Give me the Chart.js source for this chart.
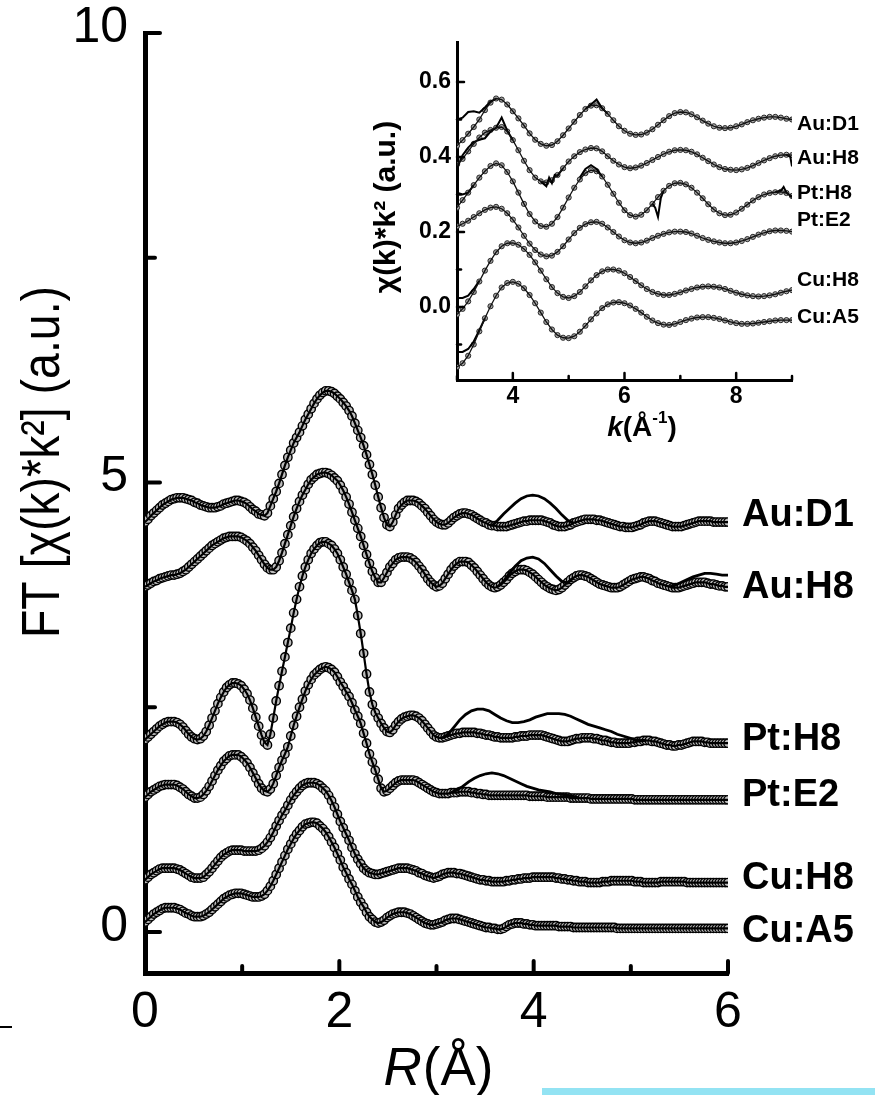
<!DOCTYPE html>
<html><head><meta charset="utf-8">
<script src="https://cdn.jsdelivr.net/npm/chart.js@4.4.1/dist/chart.umd.min.js"></script>
<style>
html,body{margin:0;padding:0;background:#fff;}
#wrap{position:relative;width:875px;height:1095px;overflow:hidden;background:#fff;}
#main{position:absolute;left:0;top:0;}
#inset{position:absolute;left:340px;top:20px;}
#scanDash{position:absolute;left:0;top:1026px;width:12px;height:2px;background:#000;}
#scanBar{position:absolute;left:542px;top:1088px;width:333px;height:7px;background:#93e3f3;}
</style></head><body>
<div id="wrap">
<canvas id="main" width="875" height="1095"></canvas>
<canvas id="inset" width="535" height="440"></canvas>
<div id="scanDash"></div><div id="scanBar"></div>
</div>
<script>
const SANS = '"Liberation Sans", Arial, Helvetica, sans-serif';

/* ================= main panel: FT magnitude vs R ================= */
const SERIES_NAMES = ['Au:D1', 'Au:H8', 'Pt:H8', 'Pt:E2', 'Cu:H8', 'Cu:A5'];
const R_START = 0, R_STEP = 0.03;   // R grid of the FT data (Å)

const FT_AU_D1 = [
4.56,4.59,4.63,4.66,4.69,4.72,4.75,4.77,4.79,4.81,
4.82,4.83,4.83,4.83,4.82,4.81,4.80,4.78,4.77,4.75,
4.74,4.73,4.72,4.72,4.72,4.73,4.74,4.76,4.77,4.78,
4.79,4.80,4.80,4.79,4.78,4.76,4.73,4.70,4.68,4.65,
4.64,4.63,4.66,4.74,4.82,4.90,4.99,5.09,5.19,5.28,
5.36,5.44,5.50,5.56,5.63,5.70,5.76,5.82,5.88,5.93,
5.97,6.00,6.02,6.02,6.01,5.99,5.96,5.93,5.89,5.85,
5.80,5.74,5.66,5.58,5.50,5.41,5.31,5.20,5.09,4.97,
4.84,4.72,4.61,4.53,4.51,4.56,4.64,4.71,4.75,4.78,
4.80,4.80,4.80,4.79,4.77,4.74,4.71,4.67,4.63,4.59,
4.56,4.54,4.53,4.53,4.55,4.58,4.61,4.63,4.65,4.66,
4.66,4.65,4.64,4.62,4.60,4.58,4.56,4.55,4.53,4.52,
4.52,4.51,4.51,4.51,4.51,4.52,4.53,4.54,4.55,4.56,
4.57,4.57,4.58,4.58,4.58,4.58,4.58,4.57,4.56,4.55,
4.53,4.52,4.51,4.51,4.51,4.52,4.53,4.55,4.56,4.57,
4.58,4.59,4.59,4.59,4.59,4.58,4.58,4.57,4.56,4.55,
4.54,4.53,4.52,4.51,4.51,4.50,4.50,4.50,4.51,4.52,
4.53,4.55,4.56,4.57,4.57,4.57,4.56,4.55,4.54,4.53,
4.52,4.51,4.51,4.51,4.51,4.52,4.53,4.54,4.55,4.56,
4.57,4.57,4.57,4.57,4.57,4.56,4.56,4.56,4.56,4.56,
4.56];

const FT_AU_H8 = [
3.84,3.86,3.88,3.90,3.91,3.93,3.94,3.95,3.96,3.97,
3.97,3.98,3.99,4.01,4.03,4.06,4.09,4.12,4.15,4.18,
4.21,4.24,4.27,4.30,4.32,4.34,4.36,4.38,4.39,4.40,
4.40,4.40,4.40,4.39,4.37,4.35,4.32,4.28,4.24,4.19,
4.14,4.09,4.05,4.03,4.03,4.06,4.13,4.22,4.32,4.42,
4.52,4.62,4.71,4.79,4.86,4.92,4.98,5.03,5.06,5.09,
5.10,5.11,5.11,5.10,5.08,5.05,5.02,4.97,4.91,4.84,
4.76,4.67,4.58,4.49,4.40,4.30,4.20,4.10,4.01,3.94,
3.89,3.89,3.94,4.00,4.06,4.10,4.14,4.16,4.17,4.17,
4.17,4.16,4.14,4.11,4.07,4.03,3.98,3.93,3.89,3.86,
3.84,3.85,3.88,3.93,3.98,4.03,4.07,4.10,4.12,4.12,
4.12,4.11,4.08,4.05,4.01,3.97,3.93,3.89,3.86,3.84,
3.83,3.84,3.86,3.89,3.92,3.96,3.99,4.01,4.03,4.03,
4.03,4.02,4.00,3.98,3.95,3.92,3.89,3.86,3.84,3.82,
3.81,3.80,3.81,3.83,3.86,3.89,3.92,3.94,3.96,3.97,
3.97,3.96,3.95,3.93,3.91,3.89,3.87,3.86,3.85,3.84,
3.83,3.83,3.83,3.84,3.86,3.88,3.90,3.92,3.93,3.94,
3.95,3.95,3.94,3.93,3.91,3.90,3.88,3.87,3.86,3.85,
3.84,3.83,3.83,3.83,3.84,3.85,3.86,3.87,3.88,3.89,
3.89,3.89,3.89,3.88,3.87,3.87,3.86,3.85,3.85,3.84,
3.84];

const FT_PT_H8 = [
2.14,2.17,2.20,2.23,2.26,2.29,2.31,2.33,2.34,2.34,
2.34,2.33,2.31,2.28,2.24,2.20,2.17,2.15,2.14,2.15,
2.18,2.23,2.30,2.38,2.46,2.54,2.61,2.67,2.72,2.75,
2.77,2.77,2.76,2.74,2.70,2.65,2.58,2.49,2.39,2.29,
2.19,2.11,2.08,2.20,2.38,2.57,2.74,2.90,3.06,3.22,
3.38,3.55,3.70,3.84,3.96,4.06,4.14,4.21,4.26,4.30,
4.33,4.34,4.34,4.32,4.30,4.26,4.21,4.14,4.06,3.98,
3.89,3.80,3.70,3.52,3.32,3.10,2.87,2.67,2.53,2.44,
2.38,2.32,2.27,2.23,2.22,2.25,2.30,2.34,2.37,2.39,
2.40,2.41,2.41,2.40,2.38,2.35,2.31,2.27,2.23,2.19,
2.17,2.16,2.16,2.17,2.18,2.19,2.20,2.21,2.21,2.22,
2.22,2.22,2.22,2.22,2.21,2.21,2.20,2.19,2.19,2.18,
2.17,2.17,2.16,2.16,2.16,2.16,2.16,2.17,2.17,2.18,
2.18,2.18,2.19,2.19,2.19,2.19,2.19,2.18,2.17,2.16,
2.15,2.14,2.13,2.12,2.12,2.12,2.13,2.14,2.15,2.15,
2.16,2.16,2.16,2.16,2.15,2.15,2.14,2.13,2.13,2.12,
2.11,2.11,2.10,2.10,2.10,2.10,2.10,2.11,2.11,2.12,
2.12,2.13,2.13,2.13,2.12,2.12,2.11,2.10,2.09,2.08,
2.08,2.07,2.07,2.08,2.08,2.09,2.10,2.11,2.12,2.12,
2.12,2.12,2.11,2.11,2.10,2.10,2.10,2.10,2.10,2.10,
2.10];

const FT_PT_E2 = [
1.50,1.53,1.56,1.58,1.60,1.62,1.63,1.64,1.64,1.64,
1.64,1.63,1.61,1.59,1.56,1.53,1.51,1.49,1.49,1.50,
1.53,1.57,1.62,1.68,1.74,1.80,1.85,1.90,1.93,1.96,
1.97,1.97,1.97,1.95,1.92,1.88,1.83,1.77,1.71,1.65,
1.60,1.57,1.56,1.59,1.65,1.74,1.83,1.91,1.98,2.06,
2.18,2.30,2.40,2.50,2.59,2.68,2.75,2.81,2.86,2.89,
2.92,2.94,2.95,2.94,2.92,2.89,2.84,2.78,2.73,2.67,
2.62,2.55,2.47,2.40,2.32,2.21,2.10,1.98,1.89,1.80,
1.70,1.60,1.56,1.57,1.60,1.63,1.66,1.68,1.69,1.69,
1.69,1.69,1.69,1.68,1.66,1.64,1.62,1.60,1.58,1.56,
1.55,1.54,1.54,1.54,1.54,1.55,1.55,1.55,1.56,1.56,
1.56,1.56,1.55,1.55,1.54,1.54,1.53,1.53,1.52,1.52,
1.52,1.52,1.52,1.52,1.52,1.52,1.52,1.52,1.52,1.52,
1.52,1.52,1.51,1.51,1.51,1.51,1.51,1.51,1.50,1.50,
1.50,1.50,1.50,1.50,1.50,1.50,1.49,1.49,1.49,1.49,
1.49,1.49,1.49,1.48,1.48,1.48,1.48,1.48,1.48,1.48,
1.48,1.48,1.48,1.48,1.48,1.48,1.48,1.48,1.47,1.47,
1.47,1.47,1.47,1.47,1.47,1.47,1.47,1.47,1.47,1.47,
1.47,1.47,1.47,1.47,1.47,1.47,1.47,1.47,1.47,1.47,
1.47,1.47,1.47,1.47,1.47,1.47,1.47,1.47,1.47,1.47,
1.47];

const FT_CU_H8 = [
0.58,0.61,0.64,0.66,0.68,0.70,0.71,0.71,0.71,0.71,
0.71,0.70,0.69,0.67,0.65,0.63,0.61,0.60,0.60,0.60,
0.61,0.64,0.67,0.71,0.75,0.79,0.83,0.86,0.88,0.90,
0.91,0.91,0.91,0.91,0.90,0.90,0.90,0.90,0.90,0.91,
0.93,0.96,1.00,1.05,1.11,1.18,1.24,1.30,1.35,1.41,
1.47,1.52,1.56,1.60,1.63,1.65,1.66,1.66,1.66,1.65,
1.63,1.60,1.57,1.52,1.46,1.39,1.31,1.23,1.16,1.09,
1.02,0.94,0.87,0.81,0.76,0.71,0.68,0.66,0.65,0.64,
0.64,0.65,0.66,0.67,0.68,0.69,0.70,0.71,0.71,0.71,
0.71,0.70,0.69,0.68,0.66,0.65,0.63,0.62,0.61,0.60,
0.61,0.62,0.64,0.65,0.66,0.66,0.66,0.65,0.65,0.64,
0.63,0.62,0.61,0.60,0.59,0.58,0.58,0.57,0.57,0.56,
0.56,0.56,0.56,0.56,0.57,0.57,0.58,0.58,0.59,0.59,
0.60,0.60,0.60,0.61,0.61,0.61,0.61,0.61,0.61,0.61,
0.61,0.60,0.60,0.59,0.59,0.58,0.58,0.57,0.57,0.56,
0.56,0.56,0.55,0.55,0.55,0.55,0.55,0.56,0.56,0.56,
0.57,0.57,0.57,0.57,0.57,0.57,0.57,0.57,0.56,0.56,
0.56,0.55,0.55,0.55,0.55,0.55,0.55,0.56,0.56,0.56,
0.56,0.56,0.56,0.56,0.56,0.56,0.55,0.55,0.55,0.55,
0.55,0.55,0.55,0.55,0.55,0.55,0.55,0.55,0.55,0.55,
0.55];

const FT_CU_A5 = [
0.11,0.14,0.17,0.20,0.22,0.24,0.26,0.27,0.27,0.27,
0.27,0.26,0.25,0.23,0.21,0.20,0.18,0.17,0.17,0.17,
0.18,0.20,0.22,0.25,0.28,0.31,0.34,0.37,0.39,0.41,
0.42,0.43,0.43,0.43,0.42,0.41,0.40,0.39,0.39,0.39,
0.40,0.42,0.46,0.51,0.57,0.64,0.71,0.78,0.85,0.92,
0.98,1.04,1.09,1.13,1.17,1.20,1.21,1.22,1.22,1.21,
1.18,1.15,1.11,1.06,1.00,0.94,0.87,0.80,0.72,0.66,
0.59,0.53,0.46,0.39,0.33,0.28,0.22,0.17,0.14,0.11,
0.10,0.11,0.13,0.16,0.18,0.20,0.21,0.22,0.22,0.22,
0.21,0.20,0.18,0.16,0.14,0.12,0.10,0.09,0.08,0.08,
0.09,0.10,0.11,0.13,0.14,0.15,0.15,0.15,0.14,0.13,
0.12,0.11,0.10,0.09,0.08,0.07,0.06,0.05,0.05,0.04,
0.04,0.03,0.03,0.04,0.06,0.08,0.09,0.10,0.10,0.10,
0.09,0.09,0.08,0.08,0.07,0.07,0.07,0.07,0.07,0.07,
0.07,0.07,0.06,0.06,0.06,0.06,0.06,0.05,0.05,0.05,
0.05,0.05,0.05,0.05,0.05,0.05,0.05,0.05,0.05,0.05,
0.05,0.05,0.04,0.04,0.04,0.04,0.04,0.04,0.04,0.04,
0.04,0.04,0.04,0.04,0.04,0.04,0.04,0.04,0.04,0.04,
0.04,0.04,0.04,0.04,0.04,0.04,0.04,0.04,0.04,0.04,
0.04,0.04,0.04,0.04,0.04,0.04,0.04,0.04,0.04,0.04,
0.04];

/* fit curves: only where they leave the data band */
const FIT_AU_D1_R = [3.57,3.63,3.69,3.75,3.81,3.87,3.93,3.99,4.05,4.11,4.17,4.23,4.29,4.35,4.41];
const FIT_AU_D1_V = [4.52,4.58,4.65,4.71,4.77,4.82,4.85,4.86,4.85,4.82,4.77,4.71,4.64,4.58,4.55];
const FIT_AU_H8A_R = [3.63,3.69,3.75,3.81,3.87,3.93,3.99,4.05,4.11,4.17,4.23,4.29,4.35,4.41];
const FIT_AU_H8A_V = [3.84,3.90,3.99,4.07,4.13,4.16,4.17,4.15,4.10,4.03,3.96,3.90,3.88,3.94];
const FIT_AU_H8B_R = [5.40,5.46,5.52,5.58,5.64,5.70,5.76,5.82,5.88,5.94,6.00];
const FIT_AU_H8B_V = [3.84,3.86,3.89,3.92,3.95,3.97,3.99,3.99,3.98,3.97,3.97];
const FIT_PT_H8_R = [3.06,3.12,3.18,3.24,3.30,3.36,3.42,3.48,3.54,3.60,3.66,3.72,3.78,3.84,3.90,3.96,4.02,4.08,4.14,4.20,4.26,4.32,4.38,4.44,4.50,4.56,4.62,4.68,4.74,4.80,4.86,4.92,4.98,5.04,5.10,5.16];
const FIT_PT_H8_V = [2.16,2.20,2.28,2.36,2.42,2.46,2.48,2.48,2.46,2.42,2.38,2.35,2.33,2.33,2.34,2.36,2.39,2.41,2.43,2.43,2.43,2.42,2.40,2.37,2.34,2.31,2.29,2.27,2.25,2.23,2.20,2.18,2.16,2.14,2.13,2.13];
const FIT_PT_E2_R = [3.15,3.21,3.27,3.33,3.39,3.45,3.51,3.57,3.63,3.69,3.75,3.81,3.87,3.93,3.99,4.05,4.11,4.17,4.23,4.29,4.35,4.41,4.47];
const FIT_PT_E2_V = [1.55,1.58,1.62,1.67,1.71,1.74,1.76,1.77,1.76,1.74,1.71,1.68,1.65,1.62,1.60,1.58,1.57,1.56,1.54,1.53,1.52,1.51,1.49];

const LABEL_Y_MAIN = [4.63, 3.83, 2.14, 1.52, 0.60, 0.00];   // label anchors (data units)
const X_TICKS = [0, 1, 2, 3, 4, 5, 6];
const X_TICK_LABELS = [0, 2, 4, 6];
const Y_TICKS = [0, 2.5, 5, 7.5, 10];
const Y_TICK_LABELS = [0, 5, 10];
const Y_TITLE = 'FT [\u03C7(k)*k\u00B2] (a.u.)';

/* ================= inset: chi(k)*k^2 ================= */
const K_START = 3, K_STEP = 0.1;
const CHI_AU_D1 = [
.430,.445,.462,.480,.500,.525,.545,.556,.553,.540,
.522,.503,.484,.463,.446,.435,.430,.432,.442,.458,
.476,.494,.512,.528,.537,.538,.530,.515,.498,.482,
.470,.462,.459,.460,.465,.474,.486,.498,.509,.517,
.520,.519,.514,.506,.497,.489,.482,.478,.477,.478,
.482,.487,.493,.498,.502,.505,.507,.507,.505,.502,.500];
const CHI_AU_H8 = [
.380,.395,.415,.435,.452,.465,.472,.478,.480,.468,
.445,.418,.390,.365,.345,.335,.332,.338,.352,.370,
.388,.402,.413,.420,.424,.423,.415,.402,.390,.380,
.373,.370,.372,.377,.384,.392,.400,.408,.414,.418,
.419,.418,.414,.407,.398,.389,.380,.373,.368,.366,
.365,.367,.371,.377,.384,.391,.397,.402,.405,.406,.405];
const CHI_PT_H8 = [
.265,.285,.305,.325,.345,.362,.376,.383,.378,.360,
.335,.305,.275,.248,.228,.216,.214,.222,.240,.265,
.292,.318,.340,.357,.365,.362,.348,.326,.302,.278,
.258,.245,.241,.246,.258,.275,.293,.310,.323,.330,
.331,.327,.318,.305,.290,.274,.260,.250,.245,.246,
.252,.262,.273,.284,.293,.300,.304,.306,.307,.304,.296];
const CHI_PT_E2 = [
.215,.222,.230,.240,.250,.259,.265,.267,.262,.250,
.233,.212,.190,.169,.152,.140,.135,.137,.147,.162,
.180,.197,.211,.221,.226,.227,.222,.212,.200,.188,
.178,.172,.170,.172,.177,.184,.190,.195,.199,.201,
.201,.200,.196,.190,.184,.179,.175,.172,.170,.170,
.172,.176,.181,.187,.193,.198,.202,.204,.204,.203,.201];
const CHI_CU_H8 = [
-.020,-.005,.015,.040,.068,.097,.123,.146,.162,.170,
.171,.166,.155,.139,.119,.097,.074,.053,.037,.027,
.024,.029,.040,.055,.071,.085,.095,.100,.100,.097,
.090,.080,.069,.058,.048,.040,.035,.032,.032,.035,
.039,.044,.048,.052,.054,.055,.054,.052,.048,.043,
.038,.034,.031,.029,.028,.029,.031,.034,.038,.042,.045];
const CHI_CU_A5 = [
-.160,-.150,-.130,-.100,-.065,-.030,.002,.030,.052,.064,
.067,.062,.050,.032,.010,-.015,-.040,-.060,-.075,-.082,
-.083,-.078,-.066,-.050,-.033,-.017,-.003,.007,.012,.013,
.010,.004,-.005,-.015,-.026,-.036,-.043,-.047,-.048,-.045,
-.040,-.035,-.031,-.028,-.027,-.027,-.029,-.032,-.036,-.040,
-.043,-.045,-.045,-.044,-.042,-.040,-.038,-.036,-.035,-.035,-.035];

/* experimental line where it departs from the fit markers */
const EXP_SEGMENTS = [
  {k: [3.0,3.1,3.2,3.3,3.4,3.5,3.6,3.7], v: [0.500,0.505,0.520,0.522,0.518,0.532,0.548,0.556]},
  {k: [5.3,5.4,5.5,5.6,5.7], v: [0.528,0.540,0.553,0.530,0.515]},
  {k: [3.0,3.1,3.2,3.3,3.4,3.5,3.6,3.7,3.8,3.9,4.0], v: [0.370,0.405,0.425,0.440,0.446,0.450,0.468,0.478,0.505,0.470,0.445]},
  {k: [4.5,4.6,4.65,4.7,4.75,4.8,4.9], v: [0.335,0.322,0.345,0.330,0.352,0.350,0.370]},
  {k: [8.9,8.97,9.0], v: [0.406,0.400,0.375]},
  {k: [3.0,3.1,3.2,3.3], v: [0.305,0.300,0.305,0.325]},
  {k: [5.2,5.3,5.4,5.5,5.6], v: [0.345,0.368,0.378,0.368,0.348]},
  {k: [6.5,6.55,6.6,6.65,6.7], v: [0.275,0.265,0.240,0.290,0.310]},
  {k: [8.7,8.8,8.85,8.9,9.0], v: [0.306,0.310,0.320,0.305,0.293]},
  {k: [3.0,3.1,3.2,3.3,3.4], v: [0.024,0.024,0.030,0.048,0.070]},
  {k: [3.0,3.1,3.2,3.3,3.4,3.5], v: [-0.120,-0.120,-0.112,-0.092,-0.062,-0.030]}
];
const LABEL_Y_INSET = [0.488, 0.397, 0.304, 0.232, 0.072, -0.027];
const KX_TICKS = [3, 4, 5, 6, 7, 8, 9];
const KX_TICK_LABELS = [4, 6, 8];
const KY_TICKS = [-0.1, 0, 0.1, 0.2, 0.3, 0.4, 0.5, 0.6];
const KY_TICK_LABELS = [0, 0.2, 0.4, 0.6];
const KY_TITLE = '\u03C7(k)*k\u00B2 (a.u.)';

/* ================= helpers ================= */
const has = (list, v) => list.some(l => Math.abs(l - v) < 1e-9);
const gridXY = (start, step, vals) => vals.map((v, i) => ({x: +(start + i * step).toFixed(3), y: v}));
const pairXY = (xs, vs) => vs.map((v, i) => ({x: xs[i], y: v}));

function inwardTicks(cfg) {
  return {
    id: 'inwardTicks',
    afterDatasetsDraw(chart) {
      const {ctx, chartArea: a, scales: {x, y}} = chart;
      ctx.save();
      ctx.strokeStyle = '#000';
      ctx.lineCap = 'round';
      ctx.lineWidth = cfg.w;
      x.ticks.forEach(t => {
        const major = has(cfg.xMajor, t.value);
        const px = x.getPixelForValue(t.value);
        ctx.beginPath(); ctx.moveTo(px, a.bottom); ctx.lineTo(px, a.bottom - (major ? cfg.xMaj : cfg.xMin)); ctx.stroke();
      });
      y.ticks.forEach(t => {
        const major = has(cfg.yMajor, t.value);
        const py = y.getPixelForValue(t.value);
        ctx.beginPath(); ctx.moveTo(a.left, py); ctx.lineTo(a.left + (major ? cfg.yMaj : cfg.yMin), py); ctx.stroke();
      });
      ctx.restore();
    }
  };
}

/* ================= main chart ================= */
const FT_SERIES = [FT_AU_D1, FT_AU_H8, FT_PT_H8, FT_PT_E2, FT_CU_H8, FT_CU_A5];
const FIT_SEGMENTS = [
  [FIT_AU_D1_R, FIT_AU_D1_V], [FIT_AU_H8A_R, FIT_AU_H8A_V], [FIT_AU_H8B_R, FIT_AU_H8B_V],
  [FIT_PT_H8_R, FIT_PT_H8_V], [FIT_PT_E2_R, FIT_PT_E2_V]
];
const mainDatasets = [];
FT_SERIES.forEach((vals, i) => {
  const pts = gridXY(R_START, R_STEP, vals);
  mainDatasets.push({
    label: SERIES_NAMES[i], data: pts, order: 3, showLine: false,
    pointRadius: 4.2, pointBorderWidth: 1.4, pointBackgroundColor: '#bdbdbd', pointBorderColor: '#000'
  });
  mainDatasets.push({
    label: SERIES_NAMES[i] + ' fit', data: pts, order: 1, showLine: true,
    borderColor: '#000', borderWidth: 2.2, pointRadius: 0
  });
});
FIT_SEGMENTS.forEach(([r, v], i) => mainDatasets.push({
  label: 'fit' + i, data: pairXY(r, v), order: 1,
  showLine: true, borderColor: '#000', borderWidth: 2.8, pointRadius: 0
}));

const mainText = {
  id: 'mainText',
  afterDraw(chart) {
    const {ctx, chartArea: a, scales: {y}} = chart;
    ctx.save();
    ctx.fillStyle = '#000';
    ctx.font = `bold 38px ${SANS}`;
    ctx.textAlign = 'left'; ctx.textBaseline = 'middle';
    SERIES_NAMES.forEach((n, i) => ctx.fillText(n, a.right + 14, y.getPixelForValue(LABEL_Y_MAIN[i])));
    // y title (slightly condensed like the original lettering)
    ctx.save();
    ctx.translate(44, 462); ctx.rotate(-Math.PI / 2); ctx.scale(0.86, 1);
    ctx.font = `54px ${SANS}`; ctx.textAlign = 'center'; ctx.textBaseline = 'middle';
    ctx.fillText(Y_TITLE, 0, 0);
    ctx.restore();
    // x title: italic R + (Å)
    ctx.textBaseline = 'alphabetic'; ctx.textAlign = 'left';
    ctx.font = `italic 53px ${SANS}`; const w1 = ctx.measureText('R').width;
    ctx.font = `53px ${SANS}`; const w2 = ctx.measureText('(\u00C5)').width;
    const x0 = 438 - (w1 + w2) / 2;
    ctx.font = `italic 53px ${SANS}`; ctx.fillText('R', x0, 1085);
    ctx.font = `53px ${SANS}`; ctx.fillText('(\u00C5)', x0 + w1 + 1, 1085);
    ctx.restore();
  }
};

new Chart(document.getElementById('main'), {
  type: 'line',
  data: {datasets: mainDatasets},
  options: {
    responsive: false, animation: false, devicePixelRatio: 1,
    layout: {padding: {top: 33, right: 147, left: 0, bottom: 0}},
    plugins: {legend: {display: false}, tooltip: {enabled: false}},
    scales: {
      x: {
        type: 'linear', position: 'bottom', min: 0, max: 6,
        afterBuildTicks: s => { s.ticks = X_TICKS.map(v => ({value: v})); },
        afterFit: s => { s.height = 122; s.paddingLeft = 0; s.paddingRight = 0; },
        grid: {display: true, drawOnChartArea: false, drawTicks: false},
        border: {display: true, width: 5, color: '#000'},
        ticks: {autoSkip: false, maxRotation: 0, minRotation: 0, padding: 10, color: '#000',
                font: {family: SANS, size: 50},
                callback: v => has(X_TICK_LABELS, v) ? String(v) : ''}
      },
      y: {
        type: 'linear', position: 'left', min: -0.456, max: 10,
        afterBuildTicks: s => { s.ticks = Y_TICKS.map(v => ({value: v})); },
        afterFit: s => { s.width = 145; s.paddingTop = 0; s.paddingBottom = 0; },
        grid: {display: true, drawOnChartArea: false, drawTicks: false},
        border: {display: true, width: 5, color: '#000'},
        ticks: {autoSkip: false, padding: 17, labelOffset: -5, color: '#000',
                font: {family: SANS, size: 50},
                callback: v => has(Y_TICK_LABELS, v) ? String(v) : ''}
      }
    }
  },
  plugins: [inwardTicks({xMajor: X_TICK_LABELS, yMajor: Y_TICK_LABELS, xMaj: 12, xMin: 7, yMaj: 15, yMin: 10, w: 4}), mainText]
});

/* ================= inset chart ================= */
const CHI_SERIES = [CHI_AU_D1, CHI_AU_H8, CHI_PT_H8, CHI_PT_E2, CHI_CU_H8, CHI_CU_A5];
const insetDatasets = [];
CHI_SERIES.forEach((vals, i) => {
  const pts = gridXY(K_START, K_STEP, vals);
  insetDatasets.push({
    label: SERIES_NAMES[i], data: pts, order: 3, showLine: false,
    pointRadius: 2.6, pointBorderWidth: 0.9, pointBackgroundColor: '#a4a4a4', pointBorderColor: '#1a1a1a'
  });
  insetDatasets.push({
    label: SERIES_NAMES[i] + ' exp', data: pts, order: 1, showLine: true,
    borderColor: '#111', borderWidth: 1.3, pointRadius: 0
  });
});
EXP_SEGMENTS.forEach((s, i) => insetDatasets.push({
  label: 'exp' + i, data: pairXY(s.k, s.v), order: 1,
  showLine: true, borderColor: '#000', borderWidth: 2, pointRadius: 0
}));

const insetText = {
  id: 'insetText',
  afterDraw(chart) {
    const {ctx, chartArea: a, scales: {y}} = chart;
    ctx.save();
    ctx.fillStyle = '#000';
    ctx.font = `bold 21px ${SANS}`;
    ctx.textAlign = 'left'; ctx.textBaseline = 'middle';
    SERIES_NAMES.forEach((n, i) => ctx.fillText(n, a.right + 5, y.getPixelForValue(LABEL_Y_INSET[i])));
    ctx.save();
    ctx.translate(47, 187); ctx.rotate(-Math.PI / 2);
    ctx.font = `bold 30px ${SANS}`; ctx.textAlign = 'center';
    ctx.fillText(KY_TITLE, 0, 0);
    ctx.restore();
    // x title k(Å^-1)
    ctx.textBaseline = 'alphabetic'; ctx.textAlign = 'left';
    const parts = [
      {t: 'k', f: `italic bold 28px ${SANS}`, dy: 0},
      {t: '(\u00C5', f: `bold 28px ${SANS}`, dy: 0},
      {t: '-1', f: `bold 17px ${SANS}`, dy: -13},
      {t: ')', f: `bold 28px ${SANS}`, dy: 0}
    ];
    let total = 0;
    parts.forEach(p => { ctx.font = p.f; p.w = ctx.measureText(p.t).width; total += p.w; });
    let x = 302 - total / 2;
    parts.forEach(p => { ctx.font = p.f; ctx.fillText(p.t, x, 416 + p.dy); x += p.w; });
    ctx.restore();
  }
};

new Chart(document.getElementById('inset'), {
  type: 'line',
  data: {datasets: insetDatasets},
  options: {
    responsive: false, animation: false, devicePixelRatio: 1,
    layout: {padding: {top: 22, right: 83, left: 0, bottom: 0}},
    plugins: {legend: {display: false}, tooltip: {enabled: false}},
    scales: {
      x: {
        type: 'linear', position: 'bottom', min: 3, max: 9,
        afterBuildTicks: s => { s.ticks = KX_TICKS.map(v => ({value: v})); },
        afterFit: s => { s.height = 80; s.paddingLeft = 0; s.paddingRight = 0; },
        grid: {display: true, drawOnChartArea: false, drawTicks: false},
        border: {display: true, width: 3, color: '#000'},
        ticks: {autoSkip: false, maxRotation: 0, minRotation: 0, padding: 3, color: '#000',
                font: {family: SANS, size: 23, weight: 'bold'},
                callback: v => has(KX_TICK_LABELS, v) ? String(v) : ''}
      },
      y: {
        type: 'linear', position: 'left', min: -0.1947, max: 0.7067,
        afterBuildTicks: s => { s.ticks = KY_TICKS.map(v => ({value: v})); },
        afterFit: s => { s.width = 117; s.paddingTop = 0; s.paddingBottom = 0; },
        grid: {display: true, drawOnChartArea: false, drawTicks: false},
        border: {display: true, width: 3, color: '#000'},
        ticks: {autoSkip: false, padding: 6, color: '#000',
                font: {family: SANS, size: 23, weight: 'bold'},
                callback: v => has(KY_TICK_LABELS, v) ? v.toFixed(1) : ''}
      }
    }
  },
  plugins: [inwardTicks({xMajor: KX_TICK_LABELS, yMajor: KY_TICK_LABELS, xMaj: 7, xMin: 4, yMaj: 7, yMin: 4, w: 2.5}), insetText]
});
</script>
</body></html>
